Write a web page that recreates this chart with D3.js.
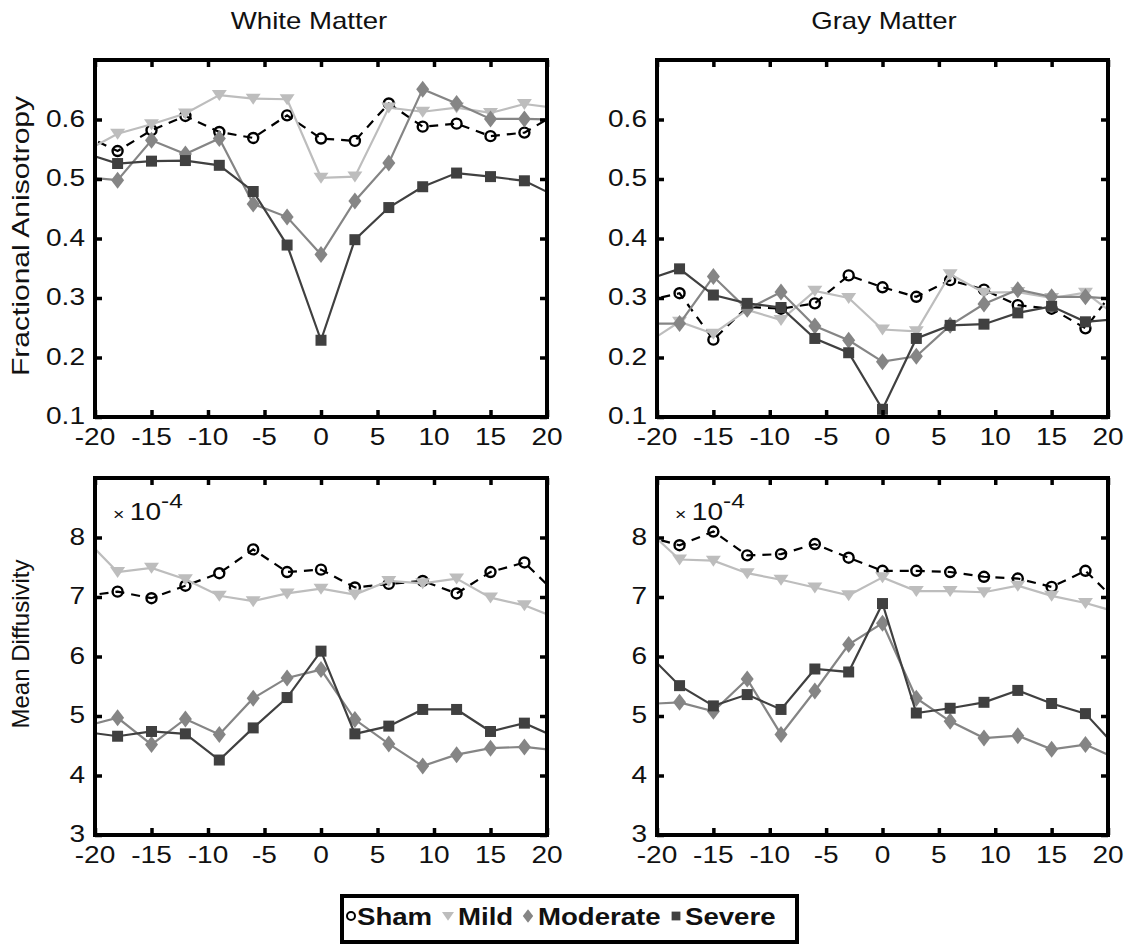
<!DOCTYPE html>
<html>
<head>
<meta charset="utf-8">
<script src="https://cdn.jsdelivr.net/npm/d3@7"></script>
<style>
  html, body { margin: 0; padding: 0; background: #fff; }
  svg { display: block; }
  text { font-family: "Liberation Sans", Arial, sans-serif; fill: #111; }
</style>
</head>
<body>
<svg id="chart" width="1127" height="946"></svg>
<script>
// Distance from lesion centre (mm); the outer samples at ±21 fall just outside the axes.
const depth = [-21, -18, -15, -12, -9, -6, -3, 0, 3, 6, 9, 12, 15, 18, 21];

const groups = ["Sham", "Mild", "Moderate", "Severe"];

// Fractional anisotropy, white matter
const faWhiteSham     = [0.574, 0.547, 0.582, 0.606, 0.579, 0.569, 0.607, 0.568, 0.564, 0.627, 0.588, 0.593, 0.572, 0.578, 0.611];
const faWhiteMild     = [0.545, 0.576, 0.592, 0.610, 0.641, 0.635, 0.634, 0.502, 0.504, 0.620, 0.613, 0.620, 0.611, 0.626, 0.619];
const faWhiteModerate = [0.503, 0.498, 0.565, 0.542, 0.568, 0.458, 0.436, 0.373, 0.463, 0.527, 0.651, 0.627, 0.601, 0.601, 0.600];
const faWhiteSevere   = [0.544, 0.526, 0.530, 0.531, 0.523, 0.479, 0.389, 0.229, 0.398, 0.452, 0.487, 0.510, 0.504, 0.497, 0.469];

// Fractional anisotropy, gray matter
const faGraySham      = [0.295, 0.308, 0.230, 0.285, 0.282, 0.291, 0.338, 0.318, 0.302, 0.330, 0.314, 0.288, 0.282, 0.249, 0.325];
const faGrayMild      = [0.223, 0.260, 0.240, 0.280, 0.263, 0.312, 0.300, 0.247, 0.244, 0.340, 0.309, 0.310, 0.300, 0.309, 0.266];
const faGrayModerate  = [0.257, 0.257, 0.336, 0.281, 0.310, 0.253, 0.229, 0.193, 0.202, 0.254, 0.290, 0.314, 0.302, 0.302, 0.298];
const faGraySevere    = [0.330, 0.349, 0.305, 0.291, 0.284, 0.232, 0.208, 0.113, 0.232, 0.254, 0.256, 0.275, 0.286, 0.260, 0.265];

// Mean diffusivity (units of 1e-4), white matter
const mdWhiteSham     = [7.015, 7.09, 6.98, 7.19, 7.40, 7.80, 7.42, 7.46, 7.16, 7.22, 7.27, 7.06, 7.42, 7.58, 7.025];
const mdWhiteMild     = [8.005, 7.42, 7.49, 7.30, 7.02, 6.93, 7.06, 7.14, 7.04, 7.27, 7.23, 7.31, 6.99, 6.86, 6.635];
const mdWhiteModerate = [4.82, 4.97, 4.52, 4.95, 4.69, 5.30, 5.64, 5.78, 4.94, 4.53, 4.16, 4.35, 4.46, 4.48, 4.42];
const mdWhiteSevere   = [4.735, 4.66, 4.74, 4.70, 4.26, 4.80, 5.31, 6.09, 4.70, 4.83, 5.11, 5.11, 4.74, 4.88, 4.625];

// Mean diffusivity (units of 1e-4), gray matter
const mdGraySham      = [8.02, 7.87, 8.10, 7.70, 7.72, 7.89, 7.66, 7.44, 7.44, 7.42, 7.34, 7.31, 7.17, 7.44, 6.885];
const mdGrayMild      = [8.155, 7.63, 7.61, 7.40, 7.29, 7.16, 7.03, 7.33, 7.10, 7.10, 7.08, 7.19, 7.02, 6.90, 6.735];
const mdGrayModerate  = [5.20, 5.23, 5.08, 5.62, 4.69, 5.42, 6.20, 6.56, 5.30, 4.91, 4.63, 4.67, 4.44, 4.52, 4.265];
const mdGraySevere    = [6.08, 5.51, 5.17, 5.36, 5.11, 5.79, 5.74, 6.89, 5.05, 5.13, 5.23, 5.43, 5.21, 5.04, 4.425];

const xTicks = [-20, -15, -10, -5, 0, 5, 10, 15, 20];
const faTicks = [0.1, 0.2, 0.3, 0.4, 0.5, 0.6];
const mdTicks = [3, 4, 5, 6, 7, 8];

const columnTitles = ["White Matter", "Gray Matter"];
const rowLabels = ["Fractional Anisotropy", "Mean Diffusivity"];

// ---- styling ----
const colors = { Sham: "#000000", Mild: "#bdbdbd", Moderate: "#858585", Severe: "#404040" };
const STRETCH = 1.22;           // glyphs are drawn wide along their baseline
const FONT = 23;

const svg = d3.select("#chart");

// marker shapes, centred on the origin
function markerPath(kind, s) {
  const p = d3.path();
  if (kind === "Sham") {
    p.arc(0, 0, 5 * s, 0, 2 * Math.PI);
  } else if (kind === "Mild") {
    p.moveTo(-7.5 * s, -5 * s); p.lineTo(7.5 * s, -5 * s); p.lineTo(0, 6 * s); p.closePath();
  } else if (kind === "Moderate") {
    p.moveTo(0, -8.5 * s); p.lineTo(6.5 * s, 0); p.lineTo(0, 8.5 * s); p.lineTo(-6.5 * s, 0); p.closePath();
  } else {
    p.rect(-5.5 * s, -5.5 * s, 11 * s, 11 * s);
  }
  return p.toString();
}

function stretchedText(sel, x, y, str, opts = {}) {
  const rot = opts.rotate ? ` rotate(${opts.rotate})` : "";
  return sel.append("text")
    .attr("transform", `translate(${x},${y})${rot} scale(${opts.stretch || STRETCH},1)`)
    .attr("text-anchor", opts.anchor || "middle")
    .attr("font-size", opts.size || FONT)
    .attr("font-weight", opts.weight || "normal")
    .text(str);
}

// plain hyphen-minus for negative tick values
const intLabel = t => String(t);

const panels = [
  { x0: 95,  x1: 547,  y0: 60,  y1: 417, domain: [0.1, 0.7], ticks: faTicks, fmt: d3.format(".1f"),
    series: [faWhiteSham, faWhiteMild, faWhiteModerate, faWhiteSevere] },
  { x0: 657, x1: 1108, y0: 60,  y1: 417, domain: [0.1, 0.7], ticks: faTicks, fmt: d3.format(".1f"),
    series: [faGraySham, faGrayMild, faGrayModerate, faGraySevere] },
  { x0: 95,  x1: 547,  y0: 478, y1: 835, domain: [3, 9], ticks: mdTicks, fmt: intLabel, exponent: true,
    series: [mdWhiteSham, mdWhiteMild, mdWhiteModerate, mdWhiteSevere] },
  { x0: 657, x1: 1108, y0: 478, y1: 835, domain: [3, 9], ticks: mdTicks, fmt: intLabel, exponent: true,
    series: [mdGraySham, mdGrayMild, mdGrayModerate, mdGraySevere] }
];

panels.forEach((pn, i) => {
  const x = d3.scaleLinear().domain([-20, 20]).range([pn.x0, pn.x1]);
  const y = d3.scaleLinear().domain(pn.domain).range([pn.y1, pn.y0]);
  const g = svg.append("g");

  const clipId = "clip" + i;
  svg.append("clipPath").attr("id", clipId)
    .append("rect").attr("x", pn.x0).attr("y", pn.y0)
    .attr("width", pn.x1 - pn.x0).attr("height", pn.y1 - pn.y0);

  const plot = g.append("g").attr("clip-path", `url(#${clipId})`);

  const line = d3.line().x((d, k) => x(depth[k])).y(d => y(d));

  pn.series.forEach((vals, si) => {
    const name = groups[si];
    plot.append("path")
      .datum(vals)
      .attr("d", line)
      .attr("fill", "none")
      .attr("stroke", colors[name])
      .attr("stroke-width", 2.2)
      .attr("stroke-dasharray", name === "Sham" ? "9,7" : null);

    const pts = vals.map((v, k) => ({ d: depth[k], v })).filter(p => p.d >= -20 && p.d <= 20);
    plot.selectAll(null).data(pts).enter().append("path")
      .attr("transform", p => `translate(${x(p.d)},${y(p.v)})`)
      .attr("d", markerPath(name, 1))
      .attr("fill", name === "Sham" ? "none" : colors[name])
      .attr("stroke", name === "Sham" ? "#000" : "none")
      .attr("stroke-width", 2.4);
  });

  // inward ticks on all four sides
  const tickLen = -7;
  const styleAxis = a => {
    a.select(".domain").remove();
    a.selectAll(".tick line").attr("stroke", "#000").attr("stroke-width", 3.5);
    a.selectAll(".tick text").remove();
  };
  g.append("g").attr("transform", `translate(0,${pn.y1})`)
    .call(d3.axisBottom(x).tickValues(xTicks).tickSize(tickLen))
    .call(styleAxis);
  g.append("g").attr("transform", `translate(0,${pn.y0})`)
    .call(d3.axisTop(x).tickValues(xTicks).tickSize(tickLen))
    .call(styleAxis);
  g.append("g").attr("transform", `translate(${pn.x0},0)`)
    .call(d3.axisLeft(y).tickValues(pn.ticks).tickSize(tickLen))
    .call(styleAxis);
  g.append("g").attr("transform", `translate(${pn.x1},0)`)
    .call(d3.axisRight(y).tickValues(pn.ticks).tickSize(tickLen))
    .call(styleAxis);

  // tick labels
  xTicks.forEach(t => stretchedText(g, x(t), pn.y1 + 28, intLabel(t)));
  pn.ticks.forEach(t => stretchedText(g, pn.x0 - 10, y(t) + 7, pn.fmt(t), { anchor: "end" }));

  // frame
  g.append("rect")
    .attr("x", pn.x0).attr("y", pn.y0)
    .attr("width", pn.x1 - pn.x0).attr("height", pn.y1 - pn.y0)
    .attr("fill", "none").attr("stroke", "#000").attr("stroke-width", 4);

  if (pn.exponent) {
    const t = stretchedText(g, pn.x0 + 18, pn.y0 + 42, "", { anchor: "start" });
    t.append("tspan").attr("font-size", 16).text("× ");
    t.append("tspan").text("10");
    t.append("tspan").attr("font-size", 20).attr("dy", -12).text("-4");
  }
});

// column titles and row labels
stretchedText(svg, 309, 29, columnTitles[0], { size: 23, stretch: 1.2 });
stretchedText(svg, 884, 29, columnTitles[1], { size: 23, stretch: 1.2 });
stretchedText(svg, 29, 236, rowLabels[0], { size: 24, rotate: -90, stretch: 1.25 });
stretchedText(svg, 29, 644, rowLabels[1], { size: 24, rotate: -90, stretch: 1.0 });

// legend
const lg = svg.append("g");
lg.append("rect").attr("x", 342).attr("y", 896).attr("width", 455).attr("height", 46)
  .attr("fill", "#fff").attr("stroke", "#000").attr("stroke-width", 4);
const legendItems = [
  { name: "Sham", mx: 351, tx: 357 },
  { name: "Mild", mx: 448, tx: 458 },
  { name: "Moderate", mx: 528, tx: 538 },
  { name: "Severe", mx: 676, tx: 685 }
];
legendItems.forEach(it => {
  lg.append("path")
    .attr("transform", `translate(${it.mx},916)`)
    .attr("d", markerPath(it.name, 0.8))
    .attr("fill", it.name === "Sham" ? "none" : colors[it.name])
    .attr("stroke", it.name === "Sham" ? "#000" : "none")
    .attr("stroke-width", 2);
  stretchedText(lg, it.tx, 925, it.name, { anchor: "start", size: 23, weight: "bold", stretch: 1.2 });
});
</script>
</body>
</html>
